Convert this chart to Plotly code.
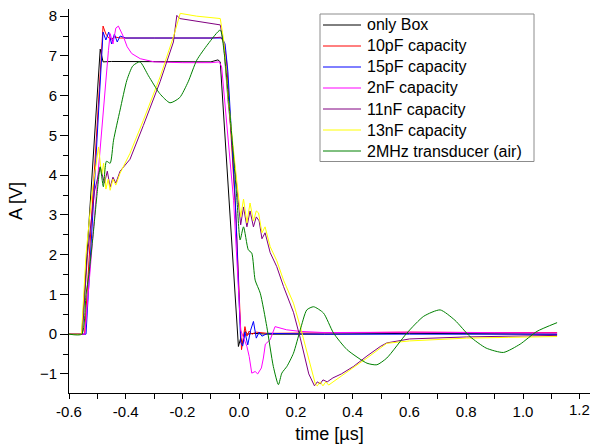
import plotly.graph_objects as go

# Time axis (µs) and amplitude (V) samples for each measurement
box_t = [-0.60, -0.555, -0.49, -0.48, -0.45, -0.30, -0.10, -0.075, -0.067, -0.003,
         0.005, 0.012, 0.02, 0.03, 0.05, 0.10, 0.30, 0.60, 0.90, 1.12]
box_a = [0.0, 0.0, 7.17, 6.85, 6.86, 6.85, 6.85, 6.9, 6.85, -0.31,
         -0.1, -0.25, 0.07, 0.0, 0.02, 0.0, 0.0, 0.02, 0.0, 0.0]

c10p_t = [-0.60, -0.545, -0.48, -0.47, -0.46, -0.45, -0.44, -0.42, -0.30, -0.10,
          -0.065, -0.055, -0.045, -0.012, 0.008, 0.014, 0.02, 0.027, 0.035, 0.045,
          0.06, 0.10, 0.30, 0.60, 0.90, 1.12]
c10p_a = [0.0, 0.0, 7.75, 7.55, 7.45, 7.42, 7.48, 7.45, 7.45, 7.45,
          7.47, 7.35, 6.9, 3.0, -0.39, -0.14, 0.19, -0.05, 0.08, 0.0,
          0.05, 0.02, 0.03, 0.05, 0.04, 0.04]

c15p_t = [-0.60, -0.54, -0.48, -0.47, -0.46, -0.45, -0.44, -0.43, -0.42, -0.40,
          -0.30, -0.10, -0.06, -0.05, -0.04, -0.014, 0.005, 0.012, 0.02, 0.03,
          0.04, 0.05, 0.06, 0.07, 0.08, 0.10, 0.30, 0.60, 0.90, 1.12]
c15p_a = [0.0, 0.0, 7.6, 7.4, 7.6, 7.3, 7.55, 7.35, 7.5, 7.45,
          7.45, 7.45, 7.45, 7.3, 6.6, 3.37, -0.2, -0.3, 0.05, -0.27,
          0.1, 0.32, -0.1, 0.05, -0.05, 0.02, 0.0, 0.0, 0.0, 0.0]

c2n_t = [-0.60, -0.544, -0.505, -0.473, -0.461, -0.455, -0.445, -0.435, -0.426, -0.408,
         -0.395, -0.379, -0.349, -0.30, -0.20, -0.10, -0.07, -0.062, -0.02, 0.005,
         0.027, 0.035, 0.044, 0.056, 0.065, 0.078, 0.085, 0.092, 0.109, 0.126,
         0.167, 0.214, 0.30, 0.60, 0.90, 1.12]
c2n_a = [0.0, 0.0, 3.4, 6.22, 7.14, 7.56, 7.3, 7.7, 7.75, 7.48,
         7.23, 7.06, 6.93, 6.85, 6.83, 6.83, 6.85, 6.72, 3.37, 0.1,
         -0.31, -0.56, -0.98, -0.94, -1.0, -0.85, -0.6, -0.25, -0.14, 0.19,
         0.11, 0.07, 0.04, 0.05, 0.03, 0.03]

c11n_t = [-0.60, -0.553, -0.535, -0.51, -0.49, -0.475, -0.465, -0.455, -0.445, -0.435,
          -0.42, -0.385, -0.338, -0.279, -0.232, -0.22, -0.21, -0.15, -0.10, -0.067,
          -0.055, -0.04, -0.02, -0.005, 0.005, 0.015, 0.027, 0.038, 0.05, 0.06,
          0.07, 0.08, 0.091, 0.109, 0.132, 0.156, 0.191, 0.215, 0.245, 0.265,
          0.275, 0.285, 0.295, 0.31, 0.33, 0.36, 0.403, 0.45, 0.497, 0.52,
          0.60, 0.80, 1.12]
c11n_a = [0.0, 0.0, 2.0, 3.6, 4.2, 3.8, 4.1, 3.7, 3.95, 3.8,
          4.1, 4.4, 5.25, 6.35, 7.35, 8.02, 7.94, 7.88, 7.82, 7.78,
          7.3, 5.9, 4.5, 3.4, 2.75, 3.2, 2.7, 3.1, 2.7, 2.95,
          2.85, 2.4, 2.55, 2.05, 1.7, 1.2, 0.55, -0.1, -1.0, -1.3,
          -1.2, -1.25, -1.15, -1.2, -1.1, -1.0, -0.81, -0.55, -0.31, -0.22,
          -0.12, -0.07, -0.03]

c13n_t = [-0.60, -0.556, -0.54, -0.52, -0.496, -0.485, -0.478, -0.47, -0.462, -0.455,
          -0.445, -0.435, -0.42, -0.385, -0.338, -0.279, -0.232, -0.208, -0.15, -0.10,
          -0.067, -0.055, -0.04, -0.02, -0.005, 0.005, 0.015, 0.027, 0.038, 0.05,
          0.06, 0.068, 0.08, 0.091, 0.109, 0.132, 0.156, 0.191, 0.215, 0.25,
          0.268, 0.275, 0.285, 0.295, 0.305, 0.315, 0.33, 0.36, 0.40, 0.45,
          0.50, 0.52, 0.60, 0.673, 0.80, 0.95, 1.12]
c13n_a = [0.0, 0.0, 2.0, 3.5, 4.71, 4.0, 4.3, 3.65, 3.9, 3.62,
          3.9, 3.75, 4.05, 4.55, 5.38, 6.47, 7.48, 8.07, 8.0, 7.97,
          7.94, 7.4, 6.0, 4.6, 3.6, 2.95, 3.4, 2.8, 3.3, 2.85,
          3.1, 3.05, 2.55, 2.7, 2.2, 1.85, 1.36, 0.78, 0.19, -0.81,
          -1.25, -1.3, -1.2, -1.3, -1.2, -1.28, -1.2, -1.05, -0.85, -0.6,
          -0.35, -0.23, -0.17, -0.14, -0.1, -0.08, -0.06]

xdcr_t = [-0.60, -0.555, -0.54, -0.53, -0.515, -0.502, -0.49, -0.479, -0.468, -0.455,
          -0.443, -0.42, -0.396, -0.375, -0.35, -0.32, -0.28, -0.244, -0.21, -0.18,
          -0.15, -0.11, -0.067, -0.055, -0.03, -0.008, 0.003, 0.015, 0.032, 0.044,
          0.056, 0.074, 0.097, 0.12, 0.138, 0.15, 0.168, 0.191, 0.215, 0.238,
          0.262, 0.297, 0.332, 0.38, 0.45, 0.485, 0.52, 0.591, 0.65, 0.708,
          0.76, 0.813, 0.87, 0.931, 0.99, 1.049, 1.12]
xdcr_a = [0.0, 0.0, 1.0, 1.5, 2.5, 3.46, 4.21, 3.71, 4.35, 4.3,
          4.88, 5.64, 6.39, 6.75, 6.85, 6.5, 6.05, 5.82, 5.95, 6.35,
          6.89, 7.3, 7.65, 7.2, 5.3, 3.37, 2.37, 2.7, 2.12, 2.04,
          1.36, 1.03, 0.19, -0.81, -1.27, -0.98, -0.81, -0.48, 0.11, 0.61,
          0.69, 0.53, 0.03, -0.39, -0.73, -0.77, -0.6, 0.03, 0.45, 0.61,
          0.35, -0.06, -0.35, -0.46, -0.25, 0.07, 0.29]

names = ["only Box", "10pF capacity", "15pF capacity", "2nF capacity",
         "11nF capacity", "13nF capacity", "2MHz transducer (air)"]
times = [box_t, c10p_t, c15p_t, c2n_t, c11n_t, c13n_t, xdcr_t]
amps = [box_a, c10p_a, c15p_a, c2n_a, c11n_a, c13n_a, xdcr_a]
colors = ["#000000", "#ff0000", "#0000ff", "#ff00ff", "#800080", "#ffff00", "#008000"]

x_ticks = [-0.6, -0.4, -0.2, 0.0, 0.2, 0.4, 0.6, 0.8, 1.0, 1.2]
x_tick_text = ["-0.6", "-0.4", "-0.2", "0.0", "0.2", "0.4", "0.6", "0.8", "1.0", "1.2"]
y_ticks = [-1, 0, 1, 2, 3, 4, 5, 6, 7, 8]

W, H = 590, 445
M_L, M_R, M_T, M_B = 69, 0, 9, 52
PW, PH = W - M_L - M_R, H - M_T - M_B


def px_x(px):
    return (px - M_L) / PW


def px_y(py):
    return 1 - (py - M_T) / PH


fig = go.Figure()
for name, t, a, color in zip(names, times, amps, colors):
    smooth = "spline" if name.startswith("2MHz") else "linear"
    fig.add_trace(go.Scatter(x=t, y=a, name=name, mode="lines",
                             line=dict(color=color, width=1, shape=smooth,
                                       smoothing=0.6)))

font = "Liberation Sans, Arial, sans-serif"

# Boxed legend drawn in paper coordinates (fixed 21 px rows)
box_l, box_r, box_t_px, row_h = 320, 534, 14, 21
shapes = [dict(type="rect", xref="paper", yref="paper",
               x0=px_x(box_l), x1=px_x(box_r),
               y0=px_y(box_t_px + row_h * len(names) + 0.5), y1=px_y(box_t_px),
               line=dict(color="#8c8c8c", width=1), fillcolor="white", layer="above")]
annotations = []
for i, (name, color) in enumerate(zip(names, colors)):
    cy = box_t_px + 11 + row_h * i
    shapes.append(dict(type="line", xref="paper", yref="paper",
                       x0=px_x(323), x1=px_x(361), y0=px_y(cy), y1=px_y(cy),
                       line=dict(color=color, width=1), layer="above"))
    annotations.append(dict(xref="paper", yref="paper", x=px_x(365), y=px_y(cy),
                            xanchor="left", yanchor="middle", text=name,
                            showarrow=False, font=dict(size=16, family=font)))

# The last tick label sits against the right edge of the page; place it as an
# annotation on the axis so it is not dropped by the tick-label overflow check.
x_last_label = x_ticks[-1]
annotations.append(dict(xref="x", yref="paper", x=x_last_label, y=0,
                        xanchor="center", yanchor="top", yshift=-6,
                        text=x_tick_text[-1], showarrow=False,
                        font=dict(size=15, family=font)))

fig.update_layout(
    width=W, height=H,
    margin=dict(l=M_L, r=M_R, t=M_T, b=M_B),
    paper_bgcolor="white", plot_bgcolor="white",
    font=dict(family=font, color="#000000"),
    showlegend=False,
    shapes=shapes, annotations=annotations,
    xaxis=dict(range=[-0.6, 1.236], tickvals=x_ticks,
               ticktext=x_tick_text[:-1] + [""],
               showgrid=False, zeroline=False, showline=True, linecolor="#000000",
               linewidth=1, ticks="outside", ticklen=5, tickcolor="#000000",
               tickfont=dict(size=15),
               minor=dict(dtick=0.1, tick0=-0.6, ticks="outside", ticklen=5,
                          tickcolor="#000000", showgrid=False),
               title=dict(text="time [µs]", font=dict(size=18), standoff=8)),
    yaxis=dict(range=[-1.48, 8.18], tickvals=y_ticks,
               showgrid=False, zeroline=False, showline=True, linecolor="#000000",
               linewidth=1, ticks="outside", ticklen=8, tickcolor="#000000",
               tickfont=dict(size=15),
               minor=dict(dtick=0.5, tick0=0, ticks="outside", ticklen=5,
                          tickcolor="#000000", showgrid=False),
               title=dict(text="A [V]", font=dict(size=18), standoff=12)),
)

fig.write_html("out.html")
